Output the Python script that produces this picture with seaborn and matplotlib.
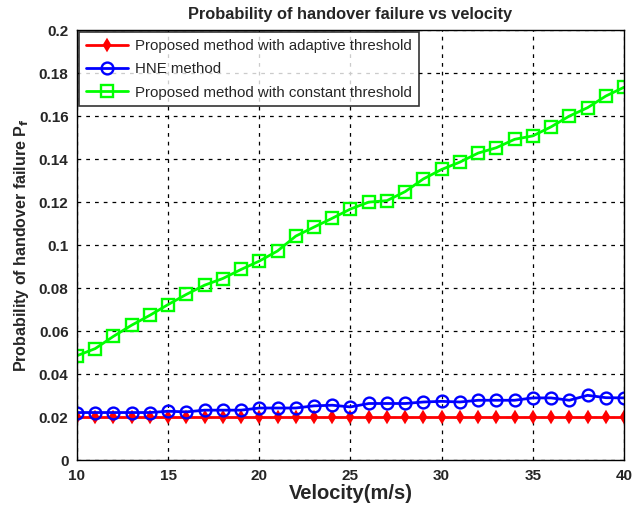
import numpy as np
import pandas as pd
import matplotlib
matplotlib.use("Agg")
import matplotlib.pyplot as plt
import seaborn as sns

velocity = list(range(10, 41))
adaptive = [0.020] * 31
hne = [0.0222, 0.0222, 0.0222, 0.0222, 0.0222, 0.0228, 0.0225, 0.0233, 0.0233, 0.0233,
       0.0243, 0.0243, 0.0243, 0.0253, 0.0256, 0.0248, 0.0264, 0.0264, 0.0264, 0.0271,
       0.0274, 0.0271, 0.0279, 0.0279, 0.0279, 0.0290, 0.0290, 0.0279, 0.0302, 0.0291, 0.0290]
constant = [0.0486, 0.0519, 0.0576, 0.0628, 0.0674, 0.0724, 0.0771, 0.0814, 0.0845, 0.0887,
            0.0926, 0.0973, 0.1042, 0.1084, 0.1125, 0.1168, 0.1200, 0.1207, 0.1249, 0.1308,
            0.1352, 0.1386, 0.1428, 0.1453, 0.1492, 0.1508, 0.1550, 0.1600, 0.1639, 0.1693, 0.1734]
labels = ["Proposed method with adaptive threshold", "HNE method",
          "Proposed method with constant threshold"]
xticks = [10, 15, 20, 25, 30, 35, 40]
yticks = [0, 0.02, 0.04, 0.06, 0.08, 0.1, 0.12, 0.14, 0.16, 0.18, 0.2]
ytick_labels = ["0", "0.02", "0.04", "0.06", "0.08", "0.1", "0.12", "0.14", "0.16", "0.18", "0.2"]

sns.set_style("white")
plt.rcParams['font.family'] = ['Liberation Sans', 'DejaVu Sans']

fig = plt.figure(figsize=(6.41, 5.09), dpi=100)
ax = fig.add_axes([0.120, 0.0957, 0.8535, 0.8453])

series = [(adaptive, "red", "d", "red", 5.5), (hne, "blue", "o", "none", 8.5),
          (constant, "#00ff00", "s", "none", 8.5)]
for (vals, color, mk, mfc, ms), lab in zip(series, labels):
    df = pd.DataFrame({"v": velocity, "p": vals})
    sns.lineplot(data=df, x="v", y="p", ax=ax, color=color, marker=mk, markersize=ms,
                 markerfacecolor=mfc, markeredgecolor=color, markeredgewidth=1.7,
                 linewidth=2, label=lab)

ax.set_xlim(10, 40)
ax.set_ylim(0, 0.2)
ax.set_xticks(xticks)
ax.set_xticklabels([str(t) for t in xticks], fontweight="bold", fontsize=11)
ax.set_yticks(yticks)
ax.set_yticklabels(ytick_labels, fontweight="bold", fontsize=11)
ax.grid(True, color="black", linestyle=(0, (3, 4)), linewidth=0.9)
for s in ax.spines.values():
    s.set_color("black")
    s.set_linewidth(1.0)
ax.tick_params(axis="both", which="both", direction="in", length=0, pad=6)

ax.set_title("Probability of handover failure vs velocity", fontweight="bold", fontsize=11.8, pad=8)
ax.set_xlabel("Velocity(m/s)", fontweight="bold", fontsize=14.5, labelpad=1)
ax.set_ylabel("Probability of handover failure P$_\\mathbf{f}$", fontweight="bold", fontsize=11.5, labelpad=6)

leg = ax.legend(loc="upper left", fontsize=10.8, frameon=True, fancybox=False,
                borderaxespad=0.15, handlelength=2.8, labelspacing=0.62, borderpad=0.45,
                handletextpad=0.5)
leg.get_frame().set_edgecolor("black")
leg.get_frame().set_linewidth(1.2)

fig.savefig("out.png", dpi=100)
